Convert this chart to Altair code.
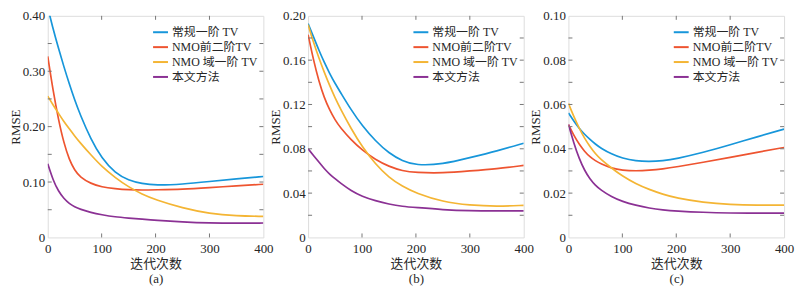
import altair as alt
import pandas as pd

# ---------------- data ----------------
iters = [0, 10, 20, 30, 40, 50, 60, 80, 100, 125, 150, 175, 200, 250, 300, 350, 400]
series = ["常规一阶 TV", "NMO前二阶TV", "NMO 域一阶 TV", "本文方法"]
colors = ["#1796DA", "#EE5430", "#F4B534", "#8B3194"]

a_blue = [0.415, 0.376, 0.341, 0.308, 0.277, 0.248, 0.222, 0.177, 0.143, 0.116, 0.103, 0.097, 0.094, 0.096, 0.101, 0.106, 0.110]
a_red = [0.327, 0.264, 0.212, 0.170, 0.140, 0.121, 0.109, 0.097, 0.091, 0.088, 0.086, 0.0855, 0.086, 0.087, 0.090, 0.093, 0.096]
a_orange = [0.255, 0.239, 0.224, 0.209, 0.196, 0.183, 0.171, 0.149, 0.128, 0.108, 0.091, 0.078, 0.068, 0.053, 0.043, 0.039, 0.038]
a_purple = [0.133, 0.103, 0.083, 0.070, 0.061, 0.055, 0.051, 0.045, 0.041, 0.037, 0.035, 0.033, 0.031, 0.028, 0.026, 0.0255, 0.026]

b_blue = [0.193, 0.181, 0.169, 0.158, 0.148, 0.139, 0.131, 0.115, 0.101, 0.087, 0.076, 0.069, 0.065, 0.066, 0.072, 0.078, 0.085]
b_red = [0.183, 0.160, 0.141, 0.126, 0.115, 0.106, 0.099, 0.088, 0.079, 0.070, 0.064, 0.060, 0.0585, 0.058, 0.060, 0.062, 0.065]
b_orange = [0.192, 0.176, 0.162, 0.149, 0.137, 0.126, 0.116, 0.098, 0.082, 0.066, 0.054, 0.046, 0.040, 0.032, 0.029, 0.028, 0.029]
b_purple = [0.080, 0.074, 0.068, 0.062, 0.057, 0.053, 0.049, 0.042, 0.037, 0.033, 0.030, 0.028, 0.027, 0.025, 0.024, 0.024, 0.024]

c_blue = [0.0562, 0.0525, 0.0492, 0.0465, 0.0442, 0.0421, 0.0403, 0.0376, 0.0357, 0.0345, 0.0342, 0.0346, 0.0355, 0.0383, 0.0418, 0.0454, 0.0489]
c_red = [0.0509, 0.0460, 0.0420, 0.0388, 0.0363, 0.0346, 0.0332, 0.0312, 0.0303, 0.0300, 0.0303, 0.0309, 0.0318, 0.0339, 0.0361, 0.0384, 0.0406]
c_orange = [0.0605, 0.0545, 0.0492, 0.0447, 0.0410, 0.0378, 0.0352, 0.0313, 0.0277, 0.0242, 0.0216, 0.0195, 0.0178, 0.0158, 0.0148, 0.0145, 0.0146]
c_purple = [0.0510, 0.0425, 0.0355, 0.0302, 0.0263, 0.0235, 0.0214, 0.0183, 0.0162, 0.0145, 0.0132, 0.0124, 0.0119, 0.0113, 0.0110, 0.0109, 0.0110]

x_ticks = [0, 100, 200, 300, 400]
x_minor = [100, 200, 300]
a_yticks = [0, 0.1, 0.2, 0.3, 0.4]
b_yticks = [0, 0.04, 0.08, 0.12, 0.16, 0.20]
c_yticks = [0, 0.02, 0.04, 0.06, 0.08, 0.10]
a_yminor = [0.05, 0.1, 0.15, 0.2, 0.25, 0.3, 0.35]
b_yminor = [0.02, 0.04, 0.06, 0.08, 0.10, 0.12, 0.14, 0.16, 0.18]
c_yminor = [0.01, 0.02, 0.03, 0.04, 0.05, 0.06, 0.07, 0.08, 0.09]
panel_labels = ["(a)", "(b)", "(c)"]

W, H = 217, 223
FONT = "Liberation Serif, Noto Sans CJK SC"
TXT = "#262626"
GRAY = "#777777"


def panel(curves, ymax, yticks, yminor, label):
    rows = []
    for name, vals in zip(series, curves):
        for xi, v in zip(iters, vals):
            rows.append({"x": xi, "v": v, "series": name})
    df = pd.DataFrame(rows)
    xs = alt.Scale(domain=[0, 400], nice=False)
    ys = alt.Scale(domain=[0, ymax], nice=False)
    xaxis = alt.Axis(
        values=x_ticks, title=["迭代次数", label], labelFlush=False, ticks=False, tickSize=0,
        domain=False, grid=False, labelPadding=5, titlePadding=2, titleLineHeight=15,
        labelFontSize=13, titleFontSize=13, titleFontWeight="normal", labelColor=TXT, titleColor=TXT,
        labelFont=FONT, titleFont=FONT)
    yaxis = alt.Axis(
        values=yticks, title="RMSE", ticks=False, tickSize=0, domain=False, grid=False,
        labelExpr="datum.value == 0 ? '0' : format(datum.value, '.2f')",
        labelPadding=3, titlePadding=0, labelFontSize=13, titleFontSize=13,
        titleFontWeight="normal", labelColor=TXT, titleColor=TXT, labelFont=FONT, titleFont=FONT)

    lines = alt.Chart(df).mark_line(interpolate="basis", strokeWidth=1.7, clip=True).encode(
        x=alt.X("x:Q", scale=xs, axis=xaxis),
        y=alt.Y("v:Q", scale=ys, axis=yaxis),
        color=alt.Color("series:N", sort=series,
                        scale=alt.Scale(domain=series, range=colors),
                        legend=alt.Legend(title=None, orient="none", legendX=105, legendY=8,
                                          symbolType="stroke", symbolSize=225, symbolStrokeWidth=2,
                                          labelFontSize=12, labelFont=FONT, labelColor=TXT,
                                          rowPadding=0, labelOffset=3, padding=0)),
    )

    ydf = pd.DataFrame({"v": yminor})
    xdf = pd.DataFrame({"x": x_minor})
    left = alt.Chart(ydf).mark_rule(color=GRAY, strokeWidth=1).encode(
        y=alt.Y("v:Q", scale=ys, axis=yaxis), x=alt.value(0), x2=alt.value(4))
    right = alt.Chart(ydf).mark_rule(color=GRAY, strokeWidth=1).encode(
        y=alt.Y("v:Q", scale=ys, axis=yaxis), x=alt.value(W - 4), x2=alt.value(W))
    bottom = alt.Chart(xdf).mark_rule(color=GRAY, strokeWidth=1).encode(
        x=alt.X("x:Q", scale=xs, axis=xaxis), y=alt.value(H - 4), y2=alt.value(H))
    top = alt.Chart(xdf).mark_rule(color=GRAY, strokeWidth=1).encode(
        x=alt.X("x:Q", scale=xs, axis=xaxis), y=alt.value(0), y2=alt.value(4))

    return alt.layer(lines, left, right, bottom, top).properties(width=W, height=H)


pa = panel([a_blue, a_red, a_orange, a_purple], 0.4, a_yticks, a_yminor, panel_labels[0])
pb = panel([b_blue, b_red, b_orange, b_purple], 0.2, b_yticks, b_yminor, panel_labels[1])
pc = panel([c_blue, c_red, c_orange, c_purple], 0.1, c_yticks, c_yminor, panel_labels[2])

chart = alt.hconcat(pa, pb, pc, spacing=45, bounds="flush").resolve_scale(
    color="independent"
).properties(padding=0).configure_view(stroke=GRAY, strokeWidth=1).configure(
    font=FONT, background="white")

chart.save("out.html", embed_options={"renderer": "svg", "actions": False})
